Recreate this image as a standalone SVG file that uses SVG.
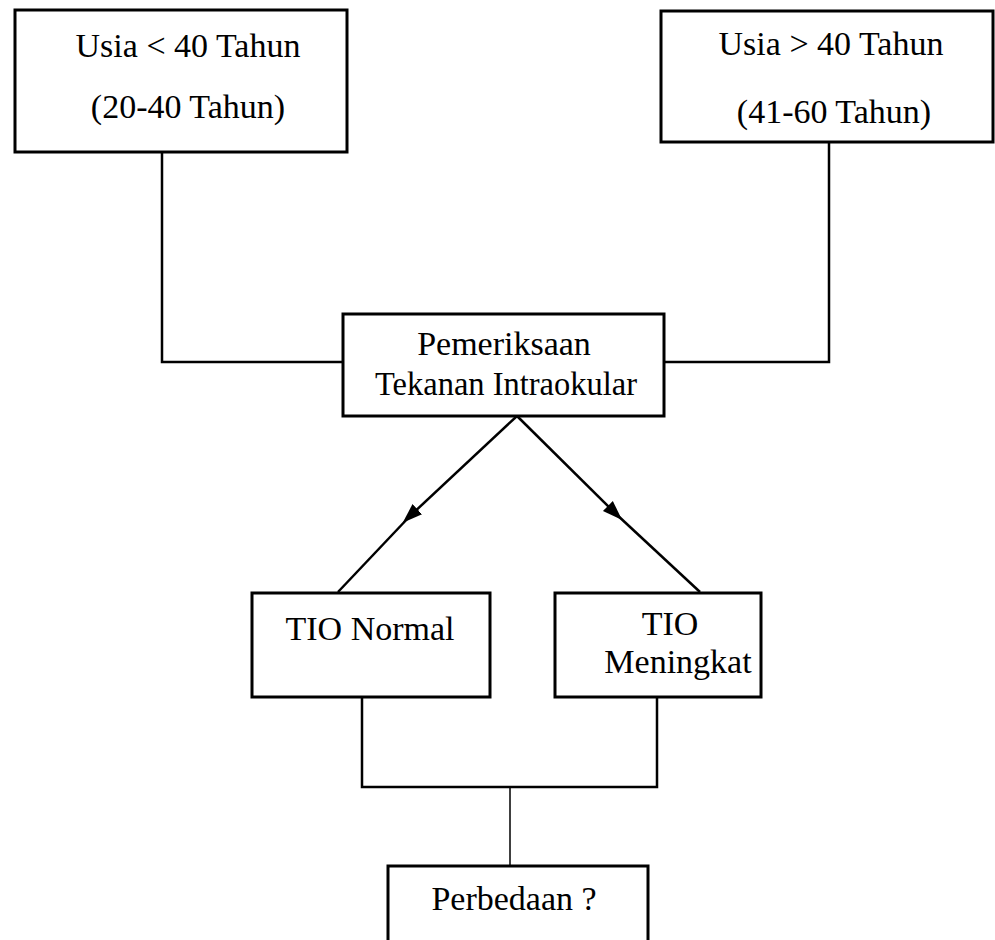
<svg xmlns="http://www.w3.org/2000/svg" width="995" height="940" viewBox="0 0 995 940">
<style>
.box{fill:#fff;stroke:#000;stroke-width:3}
.t{font-family:"Liberation Serif","Times New Roman",serif;font-size:34px;fill:#000;text-anchor:middle}
.ln{fill:none;stroke:#000;stroke-width:2.5}
.thin{fill:none;stroke:#000;stroke-width:1.5}
</style>
<defs>
<marker id="ah" viewBox="0 0 10 10" refX="5" refY="5" markerWidth="8" markerHeight="8" markerUnits="strokeWidth" orient="auto">
<path d="M0,1.5 L10,5 L0,8.5 z" fill="#000"/>
</marker>
</defs>
<g id="connectors">
<polyline class="ln" points="162,152 162,362 343,362"/>
<polyline class="ln" points="829,142 829,362 664,362"/>
<path class="ln" d="M517,416 L410,516" marker-end="url(#ah)"/>
<path class="ln" d="M410,516 L338,592"/>
<path class="ln" d="M517,416 L615,513" marker-end="url(#ah)"/>
<path class="ln" d="M615,513 L700,592"/>
<polyline class="ln" points="362,697 362,787 657,787 657,697"/>
<line class="thin" x1="510" y1="787" x2="510" y2="866"/>
</g>
<g id="n1">
<rect class="box" x="15" y="10" width="332" height="142"/>
<text class="t" x="188" y="57">Usia &lt; 40 Tahun</text>
<text class="t" x="188" y="118">(20-40 Tahun)</text>
</g>
<g id="n2">
<rect class="box" x="661" y="11" width="332" height="131"/>
<text class="t" x="831" y="55">Usia &gt; 40 Tahun</text>
<text class="t" x="834" y="123">(41-60 Tahun)</text>
</g>
<g id="n3">
<rect class="box" x="343" y="314" width="321" height="102"/>
<text class="t" x="504" y="355">Pemeriksaan</text>
<text class="t" x="506" y="395" textLength="262" lengthAdjust="spacingAndGlyphs">Tekanan Intraokular</text>
</g>
<g id="n4">
<rect class="box" x="252" y="593" width="238" height="104"/>
<text class="t" x="370" y="640">TIO Normal</text>
</g>
<g id="n5">
<rect class="box" x="555" y="593" width="206" height="104"/>
<text class="t" x="670" y="635">TIO</text>
<text class="t" x="678" y="673">Meningkat</text>
</g>
<g id="n6">
<rect class="box" x="388" y="866" width="260" height="90"/>
<text class="t" x="514" y="910">Perbedaan ?</text>
</g>
</svg>
